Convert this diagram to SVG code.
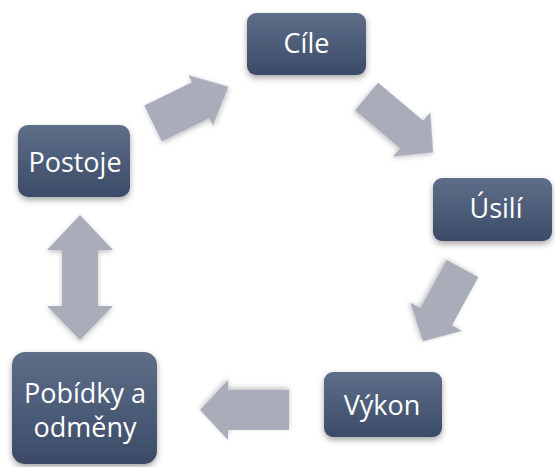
<svg xmlns="http://www.w3.org/2000/svg" width="555" height="467" viewBox="0 0 555 467">
<defs>
<linearGradient id="boxg" x1="0" y1="0" x2="0" y2="1">
<stop offset="0" stop-color="#5e6e89"/>
<stop offset="1" stop-color="#3b4b67"/>
</linearGradient>
<linearGradient id="arrg" x1="0" y1="0" x2="0" y2="1">
<stop offset="0" stop-color="#b3b6c1"/>
<stop offset="1" stop-color="#a3a7b3"/>
</linearGradient>
<filter id="sh" x="-20%" y="-20%" width="140%" height="150%">
<feDropShadow dx="0" dy="3" stdDeviation="3" flood-color="#000" flood-opacity="0.35"/>
</filter>
<filter id="ash" x="-20%" y="-20%" width="140%" height="150%">
<feDropShadow dx="0" dy="2" stdDeviation="2.5" flood-color="#000" flood-opacity="0.25"/>
</filter>
</defs>
<style>
.box{fill:url(#boxg);filter:url(#sh);}
.lbl{font-family:"Open Sans","Noto Sans",sans-serif;font-size:27px;fill:#ffffff;text-anchor:middle;}
.arr{fill:#a9adb9;filter:url(#ash);}
</style>
<rect width="555" height="467" fill="#ffffff"/>
<g id="connectors">
<path class="arr" transform="translate(153,123.5) rotate(-26)" d="M0,-20 L53,-20 L53,-28 L84,0 L53,28 L53,20 L0,20 Z"/>
<path class="arr" transform="translate(366.5,96.5) rotate(40)" d="M0,-18 L59,-18 L59,-29 L87,0 L59,29 L59,18 L0,18 Z"/>
<path class="arr" transform="translate(462.5,268.5) rotate(118.6)" d="M0,-18 L55,-18 L55,-29.5 L83,0 L55,29.5 L55,18 L0,18 Z"/>
<path class="arr" transform="translate(289,410) rotate(180)" d="M0,-20 L61,-20 L61,-30 L89,0 L61,30 L61,20 L0,20 Z"/>
<path class="arr" d="M80,215 L113,250 L98,250 L98,306 L113,306 L80,340 L47,306 L62,306 L62,250 L47,250 Z"/>
</g>
<g id="cile">
<rect class="box" x="247" y="13" width="119" height="62" rx="9"/>
<text class="lbl" x="306.5" y="53">Cíle</text>
</g>
<g id="usili">
<rect class="box" x="433" y="178" width="119" height="63" rx="9"/>
<text class="lbl" x="496" y="218">Úsilí</text>
</g>
<g id="vykon">
<rect class="box" x="324" y="372" width="118" height="65" rx="9"/>
<text class="lbl" x="382" y="415">Výkon</text>
</g>
<g id="pobidky">
<rect class="box" x="12" y="352" width="145" height="112" rx="13"/>
<text class="lbl" x="85" y="403">Pobídky a</text>
<text class="lbl" x="85" y="437">odměny</text>
</g>
<g id="postoje">
<rect class="box" x="18" y="125" width="112" height="72" rx="10"/>
<text class="lbl" x="75" y="172">Postoje</text>
</g>
</svg>
